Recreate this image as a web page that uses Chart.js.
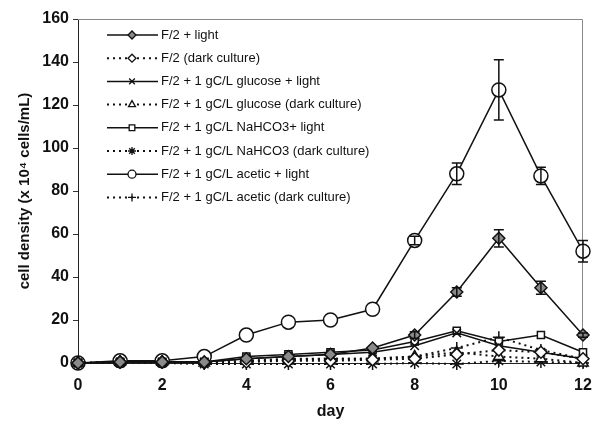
<!DOCTYPE html>
<html>
<head>
<meta charset="utf-8">
<script src="https://cdn.jsdelivr.net/npm/chart.js@4"></script>
<style>
  body { margin: 0; background: #fff; }
  #wrap { width: 597px; height: 421px; }
</style>
</head>
<body>
<div id="wrap"><canvas id="chart"></canvas></div>
<script>
// days of culture
let days = [0, 1, 2, 3, 4, 5, 6, 7, 8, 9, 10, 11, 12];

let f2Light = [0, 0.5, 0.5, 0.5, 2, 3, 4, 7, 13, 33, 58, 35, 13];
let f2Dark = [0, 0.5, 0.5, 0, 0.5, 1, 1, 1.5, 2, 4, 6, 5, 2];
let glucoseLight = [0, 0.5, 0.5, 0.5, 2, 3, 4, 5, 8, 14, 8, 5, 2];
let glucoseDark = [0, 0.5, 0.5, 0, 1, 1.5, 2, 2, 3, 5, 3, 2, 0];
let nahco3Light = [0, 0.5, 0.5, 0.5, 3, 4, 5, 6, 10, 15, 10, 13, 5];
let nahco3Dark = [0, 0, 0, -0.5, -0.5, -0.5, -0.5, -0.5, 0, -0.5, 1, 0.5, 0];
let aceticLight = [0, 1, 1, 3, 13, 19, 20, 25, 57, 88, 127, 87, 52];
let aceticDark = [0, 0.5, 0.5, 0, 1, 2, 2, 2, 3, 7, 12, 6, 2];

// standard deviations
let f2LightErr = [0, 0, 0, 0, 0, 0, 0, 0, 1.5, 2, 4, 3, 1];
let aceticLightErr = [0, 0, 0, 0, 0, 0, 0, 0, 2, 5, 14, 4, 5];

let yTicks = [0, 20, 40, 60, 80, 100, 120, 140, 160];

let pts = function (vals) {
    return vals.map(function (v, i) { return { x: days[i], y: v }; });
};

let makeSet = function (label, vals, dotted, style, radius, fill, err) {
    return {
        label: label,
        data: pts(vals),
        borderColor: '#111',
        borderWidth: dotted ? 2 : 1.5,
        borderDash: dotted ? [2, 4] : [],
        pointStyle: style,
        pointRadius: radius,
        pointBorderWidth: 1.5,
        pointBorderColor: '#111',
        pointBackgroundColor: fill,
        tension: 0,
        clip: false,
        errors: err || null
    };
};

let datasets = [
    makeSet('F/2 + light', f2Light, false, 'rectRot', 6, '#8a8a8a', f2LightErr),
    makeSet('F/2 (dark culture)', f2Dark, true, 'rectRot', 6, '#fff'),
    makeSet('F/2 + 1 gC/L glucose + light', glucoseLight, false, 'crossRot', 6, '#fff'),
    makeSet('F/2 + 1 gC/L glucose (dark culture)', glucoseDark, true, 'triangle', 6, '#fff'),
    makeSet('F/2 + 1 gC/L NaHCO3+ light', nahco3Light, false, 'rect', 5, '#fff'),
    makeSet('F/2 + 1 gC/L NaHCO3 (dark culture)', nahco3Dark, true, 'star', 6, '#fff'),
    makeSet('F/2 + 1 gC/L acetic + light', aceticLight, false, 'circle', 7, '#fff', aceticLightErr),
    makeSet('F/2 + 1 gC/L acetic (dark culture)', aceticDark, true, 'cross', 6, '#fff')
];

// error bars drawn from the scales
let errorBars = {
    id: 'errorBars',
    afterDatasetsDraw: function (chart) {
        let ctx = chart.ctx;
        let xs = chart.scales.x, ys = chart.scales.y;
        ctx.save();
        ctx.strokeStyle = '#111';
        ctx.lineWidth = 1.5;
        chart.data.datasets.forEach(function (ds) {
            if (!ds.errors) return;
            ds.data.forEach(function (p, i) {
                let e = ds.errors[i];
                if (!e) return;
                let x = xs.getPixelForValue(p.x);
                let top = ys.getPixelForValue(p.y + e);
                let bot = ys.getPixelForValue(p.y - e);
                ctx.beginPath();
                ctx.moveTo(x, top); ctx.lineTo(x, bot);
                ctx.moveTo(x - 5, top); ctx.lineTo(x + 5, top);
                ctx.moveTo(x - 5, bot); ctx.lineTo(x + 5, bot);
                ctx.stroke();
            });
        });
        ctx.restore();
    }
};

// frame + legend with line samples
let frameLegend = {
    id: 'frameLegend',
    beforeDatasetsDraw: function (chart) {
        let a = chart.chartArea, ctx = chart.ctx;
        ctx.save();
        ctx.strokeStyle = '#888';
        ctx.lineWidth = 1;
        ctx.beginPath();
        ctx.moveTo(a.left, a.top + 0.5);
        ctx.lineTo(a.right - 0.5, a.top + 0.5);
        ctx.lineTo(a.right - 0.5, a.bottom);
        ctx.stroke();
        ctx.restore();
    },
    afterDraw: function (chart) {
        let ctx = chart.ctx;
        ctx.save();
        ctx.font = '13px "Liberation Sans", Arial, sans-serif';
        ctx.textBaseline = 'middle';
        chart.data.datasets.forEach(function (ds, i) {
            let y = 35 + i * 23.2;
            ctx.strokeStyle = '#111';
            ctx.lineWidth = ds.borderWidth;
            ctx.setLineDash(ds.borderDash);
            ctx.beginPath();
            ctx.moveTo(107, y); ctx.lineTo(158, y);
            ctx.stroke();
            ctx.setLineDash([]);
            ctx.lineWidth = 1.3;
            ctx.fillStyle = ds.pointBackgroundColor;
            Chart.helpers.drawPoint(ctx, { pointStyle: ds.pointStyle, radius: 4, rotation: 0, borderWidth: 1.3 }, 132, y);
            ctx.fillStyle = '#111';
            ctx.fillText(ds.label, 161, y);
        });
        ctx.restore();
    }
};

new Chart(document.getElementById('chart'), {
    type: 'line',
    data: { datasets: datasets },
    plugins: [errorBars, frameLegend],
    options: {
        responsive: true,
        maintainAspectRatio: false,
        animation: false,
        layout: { padding: { top: 19, right: 14, left: 0, bottom: 0 } },
        plugins: { legend: { display: false }, tooltip: { enabled: false } },
        scales: {
            x: {
                type: 'linear',
                min: 0, max: 12,
                afterFit: function (s) { s.height = 58; s.paddingRight = 0; s.paddingLeft = 0; },
                ticks: { stepSize: 2, color: '#111', font: { family: '"Liberation Sans", Arial', size: 16, weight: 'bold' }, padding: 8 },
                grid: { drawOnChartArea: false, tickLength: 5, color: '#333' },
                border: { color: '#222', width: 1 },
                title: { display: true, text: 'day', color: '#111', font: { family: '"Liberation Sans", Arial', size: 16, weight: 'bold' }, padding: 0 }
            },
            y: {
                min: 0, max: 160,
                afterFit: function (s) { s.width = 78; s.paddingTop = 0; s.paddingBottom = 0; },
                afterBuildTicks: function (s) { s.ticks = yTicks.map(function (v) { return { value: v }; }); },
                ticks: { color: '#111', font: { family: '"Liberation Sans", Arial', size: 16, weight: 'bold' }, padding: 4 },
                grid: { drawOnChartArea: false, tickLength: 5, color: '#333' },
                border: { color: '#222', width: 1 },
                title: { display: true, text: 'cell density (x 10\u2074 cells/mL)', color: '#111', font: { family: '"Liberation Sans", Arial', size: 15, weight: 'bold' }, padding: { top: 16, bottom: 0 } }
            }
        }
    }
});
</script>
</body>
</html>
